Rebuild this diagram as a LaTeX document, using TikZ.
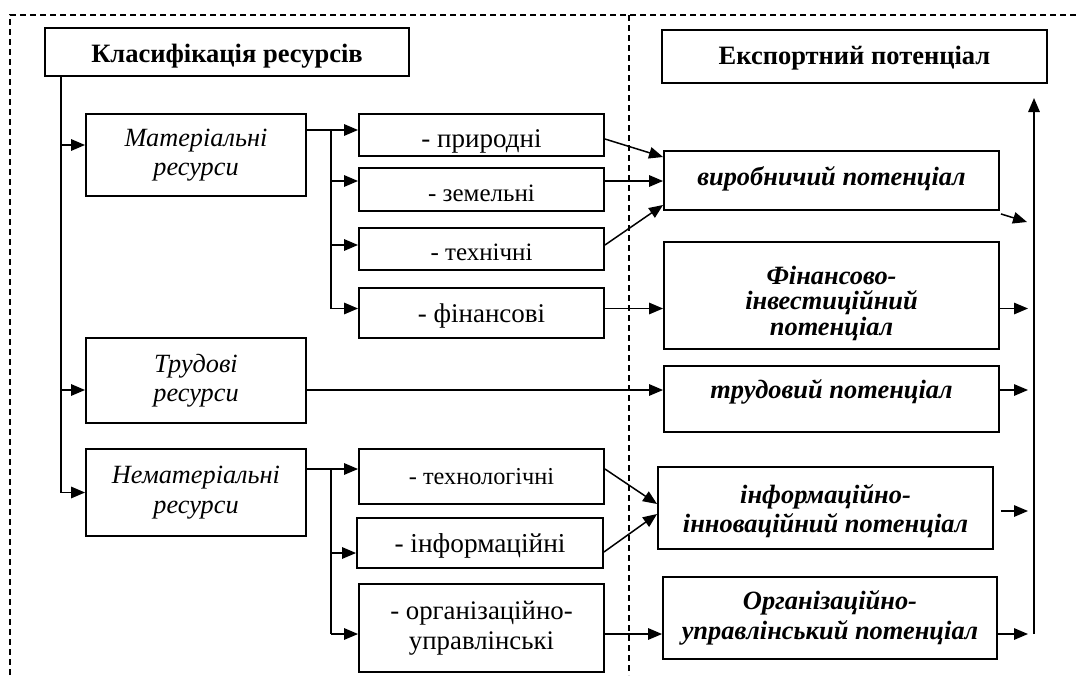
\documentclass[tikz,border=0pt]{standalone}
\usepackage{fontspec}
\setmainfont{Liberation Serif}
\usetikzlibrary{arrows.meta}
\begin{document}
\begin{tikzpicture}[x=1pt,y=-1pt,
 box/.style={draw, line width=1.9pt, inner sep=0pt, align=center},
 ln/.style={line width=1.5pt},
 arr/.style={ln, -{Triangle[length=14pt,width=11.5pt]}},
 dsh/.style={line width=1.2pt, dash pattern=on 6pt off 4pt},
 bsf/.style={font=\bfseries\fontsize{#1}{30}\selectfont},
 itf/.style={font=\itshape\fontsize{#1}{29.5}\selectfont},
 rgf/.style={font=\fontsize{#1}{30}\selectfont},
 bif/.style={font=\bfseries\itshape\fontsize{#1}{29.5}\selectfont}]
\useasboundingbox (0,0) rectangle (1078,675);
% dashed frame
\coordinate (dTL) at (10,15); \coordinate (dTR) at (1078,15); \coordinate (dBL) at (10,675);
\coordinate (dMT) at (629,15); \coordinate (dMB) at (629,675);
\draw[dsh] (dBL) -- (dTL) -- (dTR);
\draw[dsh] (dMT) -- (dMB);
% left nodes
\node[box, bsf=26.5, minimum width=364pt, minimum height=48pt, text height=30pt, text depth=10pt] (cls) at (227,52) {Класифікація ресурсів};
\node[box, itf=26.3, minimum width=220pt, minimum height=82pt] (mat) at (196,155) {Матеріальні\\ресурси};
\node[box, itf=26.3, minimum width=220pt, minimum height=85pt] (trud) at (196,380.5) {Трудові\\ресурси};
\node[box, itf=26.3, minimum width=220pt, minimum height=87pt] (nemat) at (196,492.5) {Нематеріальні\\ресурси};
% middle nodes
\node[box, rgf=27, minimum width=245pt, minimum height=42pt, text height=32pt, text depth=8pt] (pryr) at (481.5,135) {- природні};
\node[box, rgf=25, minimum width=245pt, minimum height=43pt, text height=31.5pt, text depth=8.5pt] (zem) at (481.5,189.5) {- земельні};
\node[box, rgf=25, minimum width=245pt, minimum height=42pt, text height=31pt, text depth=9pt] (tech) at (481.5,249) {- технічні};
\node[box, rgf=27, minimum width=245pt, minimum height=50pt, text height=29pt, text depth=11pt] (fin) at (481.5,313) {- фінансові};
\node[box, rgf=24.3, minimum width=245pt, minimum height=55pt, text height=27.5pt, text depth=12.5pt] (tehnol) at (481.5,476.5) {- технологічні};
\node[box, rgf=27.3, minimum width=246pt, minimum height=50pt, text height=29pt, text depth=11pt] (inform) at (480,543) {- інформаційні};
\node[box, rgf=26.8, minimum width=245pt, minimum height=88pt] (org) at (481.5,628) {- організаційно-\\управлінські};
% right nodes
\node[box, bsf=26.5, minimum width=385pt, minimum height=53pt, text height=28pt, text depth=12pt] (exp) at (854.5,56.5) {Експортний потенціал};
\node[box, bif=26.4, minimum width=335pt, minimum height=59pt, text height=24.5pt, text depth=15.5pt] (vyrob) at (831.5,180.5) {виробничий потенціал};
\node[box, minimum width=335pt, minimum height=107pt,
  label={[name=finvt, align=center, font=\bfseries\itshape\fontsize{26.4}{25.5}\selectfont, yshift=-7.5pt]center:{Фінансово-\\інвестиційний\\потенціал}}] (finv) at (831.5,295.5) {};
\node[box, bif=26.4, minimum width=335pt, minimum height=66pt, text height=19pt, text depth=21pt] (trudovyi) at (831.5,399) {трудовий потенціал};
\node[box, minimum width=335pt, minimum height=82pt,
  label={[name=infot, align=center, font=\bfseries\itshape\fontsize{26.4}{29.5}\selectfont, yshift=-3pt]center:{інформаційно-\\інноваційний потенціал}}] (info) at (825.5,508) {};
\node[box, bif=26.4, minimum width=334pt, minimum height=82pt] (orgp) at (830,618) {Організаційно-\\управлінський потенціал};
% coordinates
\coordinate (trunk) at ([xshift=17pt]cls.south west);
\coordinate (mbr) at (331,0);
\coordinate (cx) at (1028,0);
\coordinate (ctop) at (1034,98);
\coordinate (cbot) at (1034,634);
\coordinate (matin) at ([yshift=10pt]mat.west);
\coordinate (trudin) at ([yshift=-9.5pt]trud.west);
\coordinate (matout) at ([yshift=25pt]mat.east);
\coordinate (pryrin) at ([yshift=5pt]pryr.west);
\coordinate (zemin) at ([yshift=8.5pt]zem.west);
\coordinate (techin) at ([yshift=4pt]tech.west);
\coordinate (finin) at ([yshift=4.5pt]fin.west);
\coordinate (nemout) at ([yshift=23.5pt]nemat.east);
\coordinate (tehnolin) at ([yshift=7.5pt]tehnol.west);
\coordinate (informin) at ([yshift=-10pt]inform.west);
\coordinate (orgin) at ([yshift=-6pt]org.west);
% trunk
\draw[arr] (trunk) |- (nemat.west);
\draw[arr] (trunk |- matin) -- (matin);
\draw[arr] (trunk |- trudin) -- (trudin);
% material branch
\draw[arr] (matout) -- (pryrin);
\draw[ln] (mbr |- matout) -- (mbr |- finin);
\draw[arr] (mbr |- zemin) -- (zemin);
\draw[arr] (mbr |- techin) -- (techin);
\draw[arr] (mbr |- finin) -- (finin);
% nonmaterial branch
\draw[arr] (nemout) -- (tehnolin);
\draw[ln] (mbr |- nemout) -- (mbr |- orgin);
\draw[arr] (mbr |- informin) -- (informin);
\draw[arr] (mbr |- orgin) -- (orgin);
% labour
\draw[arr] ([yshift=-9.5pt]trud.east) -- ([yshift=9pt]trudovyi.west);
% cross arrows
\draw[arr] ([yshift=-4pt]pryr.east) -- ([yshift=23.5pt]vyrob.west);
\draw[arr] ([yshift=8.5pt]zem.east) -- ([yshift=-0.5pt]vyrob.west);
\draw[arr] ([yshift=4pt]tech.east) -- ([yshift=-24.5pt]vyrob.west);
\draw[arr] ([yshift=4.5pt]fin.east) -- ([yshift=-13pt]finv.west);
\draw[arr] ([yshift=7.5pt]tehnol.east) -- ([yshift=4pt]info.west);
\draw[arr] ([yshift=-9pt]inform.east) -- ([yshift=-6pt]info.west);
\draw[arr] ([yshift=-6pt]org.east) -- ([yshift=-16pt]orgp.west);
% collector
\draw[arr] (cbot) -- (ctop);
\coordinate (vyout) at ([shift={(1pt,-3pt)}]vyrob.south east);
\coordinate (vyend) at (1027,222);
\draw[arr] (vyout) -- (vyend);
\coordinate (finvout) at ([yshift=-13pt]finv.east);
\draw[arr] (finvout) -- (cx |- finvout);
\coordinate (trudout) at ([yshift=9pt]trudovyi.east);
\draw[arr] (trudout) -- (cx |- trudout);
\coordinate (infoout) at ([shift={(7pt,-3pt)}]info.east);
\draw[arr] (infoout) -- (cx |- infoout);
\coordinate (orgpout) at ([yshift=-16pt]orgp.east);
\draw[arr] (orgpout) -- (cx |- orgpout);
\end{tikzpicture}
\end{document}
